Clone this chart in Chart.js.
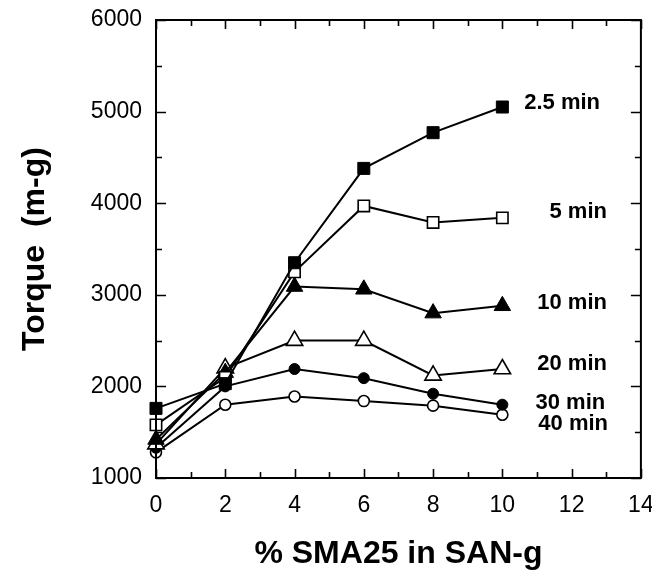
<!DOCTYPE html>
<html>
<head>
<meta charset="utf-8">
<script src="https://cdn.jsdelivr.net/npm/chart.js@4/dist/chart.umd.min.js"></script>
<style>
  html, body { margin: 0; padding: 0; background: #fff; overflow: hidden; }
  #wrap { width: 652px; height: 570px; }
  canvas { display: block; }
</style>
</head>
<body>
<div id="wrap"><canvas id="c" width="652" height="570"></canvas></div>
<script>
// ---- data ----
const xValues = [0, 2, 4, 6, 8, 10];
const t2_5min = [1760, 2030, 3350, 4380, 4770, 5050];
const t5min   = [1580, 2100, 3250, 3970, 3790, 3840];
const t10min  = [1420, 2150, 3090, 3060, 2800, 2880];
const t20min  = [1370, 2200, 2500, 2500, 2120, 2190];
const t30min  = [1330, 2000, 2190, 2090, 1920, 1800];
const t40min  = [1280, 1800, 1890, 1840, 1790, 1690];
const seriesNames = ['2.5 min', '5 min', '10 min', '20 min', '30 min', '40 min'];
const labelX = [12.82, 13.02, 13.02, 13.02, 12.97, 13.05];
const labelY = [5090, 3900, 2915, 2245, 1820, 1590];
const xTitle = '% SMA25 in SAN-g';
const yTitle = 'Torque  (m-g)';

const toPts = arr => xValues.map((x, i) => ({ x: x, y: arr[i] }));

function ds(name, arr, style, filled, radius) {
  return {
    label: name,
    data: toPts(arr),
    showLine: true,
    borderColor: '#000',
    borderWidth: 2,
    pointStyle: style,
    pointRadius: radius,
    pointHoverRadius: radius,
    pointBackgroundColor: filled ? '#000' : '#fff',
    pointBorderColor: '#000',
    pointBorderWidth: filled ? 1 : 1.6,
    tension: 0,
    clip: false
  };
}

const FONT = "'Liberation Sans', Arial, Helvetica, sans-serif";

const framePlugin = {
  id: 'frameTicks',
  afterDatasetsDraw(chart) {
    const { ctx, chartArea: a, scales: { x, y } } = chart;
    ctx.save();
    ctx.strokeStyle = '#000';
    ctx.lineWidth = 2;
    ctx.strokeRect(a.left, a.top, a.right - a.left, a.bottom - a.top);
    ctx.lineWidth = 1.6;
    ctx.beginPath();
    for (let v = 0; v <= 14; v += 1) {
      const px = Math.round(x.getPixelForValue(v)) + 0.5;
      const len = (v % 2 === 0) ? 9 : 6;
      ctx.moveTo(px, a.bottom); ctx.lineTo(px, a.bottom - len);
      ctx.moveTo(px, a.top); ctx.lineTo(px, a.top + len);
    }
    for (let v = 1000; v <= 6000; v += 500) {
      const py = Math.round(y.getPixelForValue(v)) + 0.5;
      const len = (v % 1000 === 0) ? 10 : 6;
      ctx.moveTo(a.left, py); ctx.lineTo(a.left + len, py);
      ctx.moveTo(a.right, py); ctx.lineTo(a.right - len, py);
    }
    ctx.stroke();
    // series labels
    ctx.fillStyle = '#000';
    ctx.font = "bold 22px " + FONT;
    ctx.textAlign = 'right';
    ctx.textBaseline = 'middle';
    seriesNames.forEach((n, i) => {
      ctx.fillText(n, x.getPixelForValue(labelX[i]), y.getPixelForValue(labelY[i]));
    });
    ctx.restore();
  }
};

new Chart(document.getElementById('c'), {
  type: 'scatter',
  data: {
    datasets: [
      ds(seriesNames[0], t2_5min, 'rect', true, 8.5),
      ds(seriesNames[1], t5min, 'rect', false, 8),
      ds(seriesNames[2], t10min, 'triangle', true, 9.5),
      ds(seriesNames[3], t20min, 'triangle', false, 9.5),
      ds(seriesNames[4], t30min, 'circle', true, 5.5),
      ds(seriesNames[5], t40min, 'circle', false, 5.5)
    ]
  },
  options: {
    responsive: false,
    animation: false,
    events: [],
    layout: { padding: { top: 20, right: 10, left: 0, bottom: 0 } },
    plugins: { legend: { display: false }, tooltip: { enabled: false } },
    scales: {
      x: {
        type: 'linear', min: 0, max: 14,
        afterFit(s) { s.height = 92; s.paddingLeft = 0; s.paddingRight = 0; },
        ticks: { stepSize: 2, color: '#000', padding: 14, font: { family: FONT, size: 23 },
                 callback: v => String(v) },
        grid: { display: false, drawTicks: false },
        border: { display: false },
        title: { display: true, text: xTitle, color: '#000', padding: { top: 0, bottom: 0 },
                 font: { family: FONT, size: 32, weight: 'bold', lineHeight: 1 } }
      },
      y: {
        type: 'linear', min: 1000, max: 6000,
        afterFit(s) { s.width = 156; s.paddingTop = 0; s.paddingBottom = 0; },
        ticks: { stepSize: 1000, color: '#000', padding: 14, font: { family: FONT, size: 23 },
                 callback: v => String(v) },
        grid: { display: false, drawTicks: false },
        border: { display: false },
        title: { display: true, text: yTitle, color: '#000', padding: { top: 16, bottom: 0 },
                 font: { family: FONT, size: 32, weight: 'bold', lineHeight: 1.2 } }
      }
    }
  },
  plugins: [framePlugin]
});
</script>
</body>
</html>
